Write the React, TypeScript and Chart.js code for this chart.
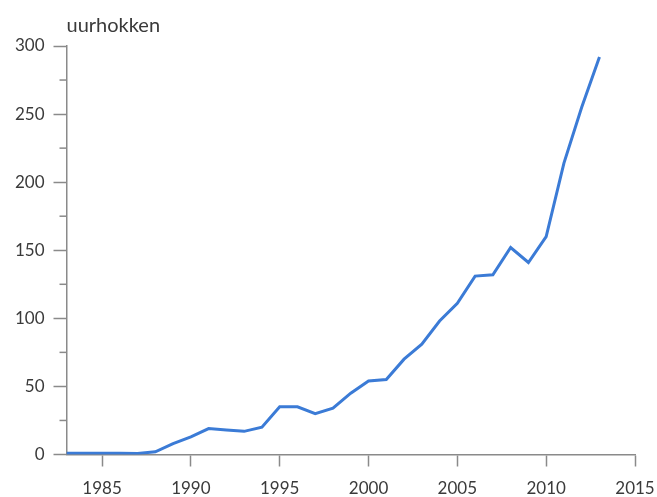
import React, { useEffect, useRef } from "react";
import { Chart, registerables } from "chart.js";

Chart.register(...registerables);

const years = [1983, 1984, 1985, 1986, 1987, 1988, 1989, 1990, 1991, 1992, 1993, 1994, 1995, 1996, 1997, 1998, 1999, 2000, 2001, 2002, 2003, 2004, 2005, 2006, 2007, 2008, 2009, 2010, 2011, 2012, 2013];
const uurhokken = [1, 1, 1, 1, 0.8, 2, 8, 13, 19, 18, 17, 20, 35, 35, 30, 34, 45, 54, 55, 70, 81, 98, 111, 131, 132, 152, 141, 160, 214, 255, 292];
const xTicks = [1985, 1990, 1995, 2000, 2005, 2010, 2015];
const yMinorTicks = [25, 75, 125, 175, 225, 275];
const yTitle = "uurhokken";

const FONT = "Lato, 'Open Sans', sans-serif";
const TEXT = "#3a3a3a";
const AXIS = "#8a8a8a";

export default function App() {
  const ref = useRef<HTMLCanvasElement | null>(null);
  useEffect(() => {
    if (!ref.current) return;
    const extras = {
      id: "extras",
      afterDraw(chart: any) {
        const ctx = chart.ctx;
        const y = chart.scales.y;
        const left = chart.chartArea.left;
        ctx.save();
        ctx.strokeStyle = AXIS;
        ctx.lineWidth = 1.5;
        yMinorTicks.forEach((v) => {
          const py = y.getPixelForValue(v);
          ctx.beginPath();
          ctx.moveTo(left - 7, py);
          ctx.lineTo(left, py);
          ctx.stroke();
        });
        ctx.fillStyle = TEXT;
        ctx.font = `20px ${FONT}`;
        ctx.textAlign = "left";
        ctx.textBaseline = "alphabetic";
        ctx.fillText(yTitle, left, 32);
        ctx.restore();
      },
    };
    const chart = new Chart(ref.current, {
      type: "line",
      data: {
        datasets: [
          {
            data: years.map((yr, i) => ({ x: yr, y: uurhokken[i] })),
            borderColor: "#3b7bd6",
            borderWidth: 3,
            pointRadius: 0,
            tension: 0,
            fill: false,
          },
        ],
      },
      options: {
        animation: false,
        responsive: true,
        maintainAspectRatio: false,
        layout: { padding: { top: 46, right: 22, left: 0, bottom: 0 } },
        plugins: { legend: { display: false }, tooltip: { enabled: false }, title: { display: false } },
        scales: {
          x: {
            type: "linear",
            min: 1983,
            max: 2015,
            afterBuildTicks: (scale: any) => {
              scale.ticks = xTicks.map((v) => ({ value: v }));
            },
            afterFit: (scale: any) => {
              scale.height = 42.5;
              scale.paddingLeft = 0;
              scale.paddingRight = 0;
            },
            grid: { drawOnChartArea: false, drawTicks: true, tickLength: 12, tickColor: AXIS, tickWidth: 1.5 },
            border: { display: true, color: AXIS, width: 1.5 },
            ticks: {
              padding: 12,
              color: TEXT,
              font: { family: FONT, size: 17 },
              maxRotation: 0,
              autoSkip: false,
              callback: (v: any) => String(v),
            },
          },
          y: {
            min: 0,
            max: 300,
            afterFit: (scale: any) => {
              scale.width = 66.5;
              scale.paddingTop = 0;
              scale.paddingBottom = 0;
            },
            grid: { drawOnChartArea: false, drawTicks: true, tickLength: 13, tickColor: AXIS, tickWidth: 1.5 },
            border: { display: true, color: AXIS, width: 1.5 },
            ticks: {
              stepSize: 50,
              padding: 9,
              color: TEXT,
              font: { family: FONT, size: 17 },
            },
          },
        },
      },
      plugins: [extras],
    });
    return () => chart.destroy();
  }, []);
  return (
    <div style={{ position: "fixed", left: 0, top: 0, width: 657, height: 497, background: "#fff" }}>
      <canvas ref={ref} />
    </div>
  );
}
